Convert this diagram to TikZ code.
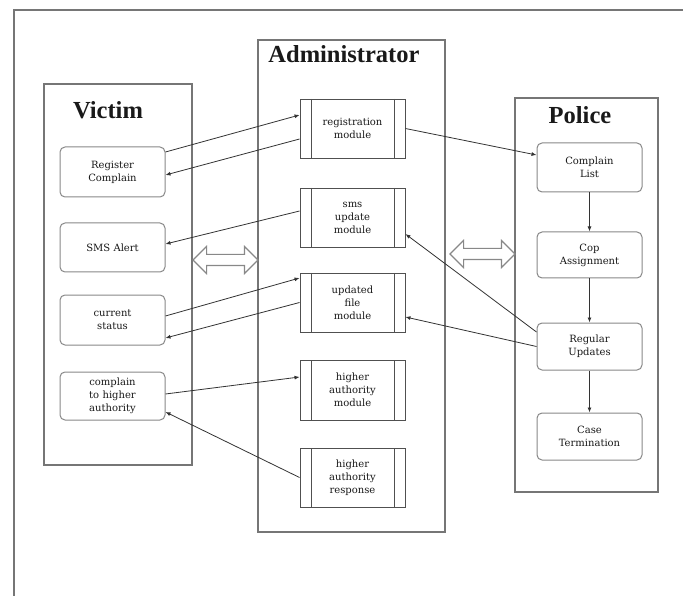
\documentclass[tikz,border=0pt]{standalone}
\usepackage{fontspec}
\setmainfont{Liberation Serif}
\newfontfamily\boxfont{DejaVu Serif}
\usetikzlibrary{arrows.meta,shapes.arrows,shadows}
\definecolor{panelgray}{HTML}{767676}
\definecolor{boxgray}{HTML}{888888}
\definecolor{modgray}{HTML}{505050}
\definecolor{linegray}{HTML}{333333}
\tikzset{
  panel/.style={draw=panelgray, line width=1.4pt, fill=white, drop shadow={shadow xshift=1.2pt, shadow yshift=-1.2pt, opacity=0.25}},
  title/.style={font=\fontsize{24.5}{28}\selectfont\bfseries, text=black!90},
  rbox/.style={draw=boxgray, line width=1pt, rounded corners=5pt, fill=white, minimum width=105pt, text width=97pt, align=center, inner sep=0pt, font=\boxfont\fontsize{10}{13}\selectfont, text=black!90},
  mod/.style={draw=modgray, line width=0.9pt, fill=white, minimum width=105pt, minimum height=59pt, text width=82pt, align=center, inner sep=0pt, font=\boxfont\fontsize{10}{13}\selectfont, text=black!90,
    path picture={\draw[modgray, line width=0.9pt] ([xshift=11pt]path picture bounding box.north west) -- ([xshift=11pt]path picture bounding box.south west);
                  \draw[modgray, line width=0.9pt] ([xshift=-11pt]path picture bounding box.north east) -- ([xshift=-11pt]path picture bounding box.south east);}},
  conn/.style={draw=linegray, line width=0.8pt, -{Latex[length=5pt,width=4pt]}},
  dbl/.style={double arrow, draw=boxgray, line width=1.1pt, fill=white, minimum height=65pt, inner sep=5pt, double arrow head extend=8pt}
}
\begin{document}
\begin{tikzpicture}[x=1pt,y=-1pt]
\useasboundingbox (0,0) rectangle (683,596);
\fill[white] (0,0) rectangle (683,596);
% outer frame
\coordinate (fbl) at (14,598);
\coordinate (ftl) at (14,10);
\coordinate (ftr) at (685,10);
\draw[panelgray, line width=2pt] (fbl) -- (ftl) -- (ftr);

% panels
\node[panel, minimum width=148pt, minimum height=381pt, inner sep=0pt] (victim) at (118,274.5) {};
\node[panel, minimum width=187pt, minimum height=492pt, inner sep=0pt] (admin) at (351.5,286) {};
\node[panel, minimum width=143pt, minimum height=394pt, inner sep=0pt] (police) at (586.5,295) {};

\node[title] (tv) at (108,110) {Victim};
\node[title] (ta) at (344,54) {Administrator};
\node[title] (tp) at (580,115) {Police};

% victim boxes
\node[rbox, minimum height=50pt] (rc) at (112.5,172) {Register\\Complain};
\node[rbox, minimum height=49pt] (sms) at (112.5,247.5) {SMS Alert};
\node[rbox, minimum height=50pt] (cs) at (112.5,320) {current\\status};
\node[rbox, minimum height=48pt] (cha) at (112.5,396) {complain\\to higher\\authority};

% admin modules
\node[mod] (regm) at (352.5,128.5) {registration\\module};
\node[mod] (smsm) at (352.5,217.5) {sms\\update\\module};
\node[mod] (ufm) at (352.5,302.5) {updated\\file\\module};
\node[mod, minimum height=60pt] (ham) at (352.5,390) {higher\\authority\\module};
\node[mod] (har) at (352.5,477.5) {higher\\authority\\response};

% police boxes
\node[rbox, minimum height=49pt] (cl) at (589.5,167.5) {Complain\\List};
\node[rbox, minimum height=46pt] (cop) at (589.5,255) {Cop\\Assignment};
\node[rbox, minimum height=47pt] (ru) at (589.5,346.5) {Regular\\Updates};
\node[rbox, minimum height=47pt] (ct) at (589.5,436.5) {Case\\Termination};

% double arrows
\node[dbl] (da1) at (225.5,260) {};
\node[dbl] (da2) at (482.5,254) {};

% connectors
\draw[conn] ([yshift=20pt]rc.east) -- ([yshift=13.5pt]regm.west);
\draw[conn] ([yshift=-10.5pt]regm.west) -- ([yshift=-3pt]rc.east);
\draw[conn] ([yshift=6.5pt]smsm.west) -- ([yshift=3.5pt]sms.east);
\draw[conn] ([yshift=4pt]cs.east) -- ([yshift=24.5pt]ufm.west);
\draw[conn] (ufm.west) -- ([yshift=-18pt]cs.east);
\draw[conn] ([yshift=2pt]cha.east) -- ([yshift=13pt]ham.west);
\draw[conn] (har.west) -- ([yshift=-16pt]cha.east);
\draw[conn] (regm.east) -- ([yshift=12.5pt]cl.west);
\draw[conn] ([yshift=14.5pt]ru.west) -- ([yshift=-16.5pt]smsm.east);
\draw[conn] (ru.west) -- ([yshift=-14.5pt]ufm.east);
\draw[conn] (cl) -- (cop);
\draw[conn] (cop) -- (ru);
\draw[conn] (ru) -- (ct);
\end{tikzpicture}
\end{document}
